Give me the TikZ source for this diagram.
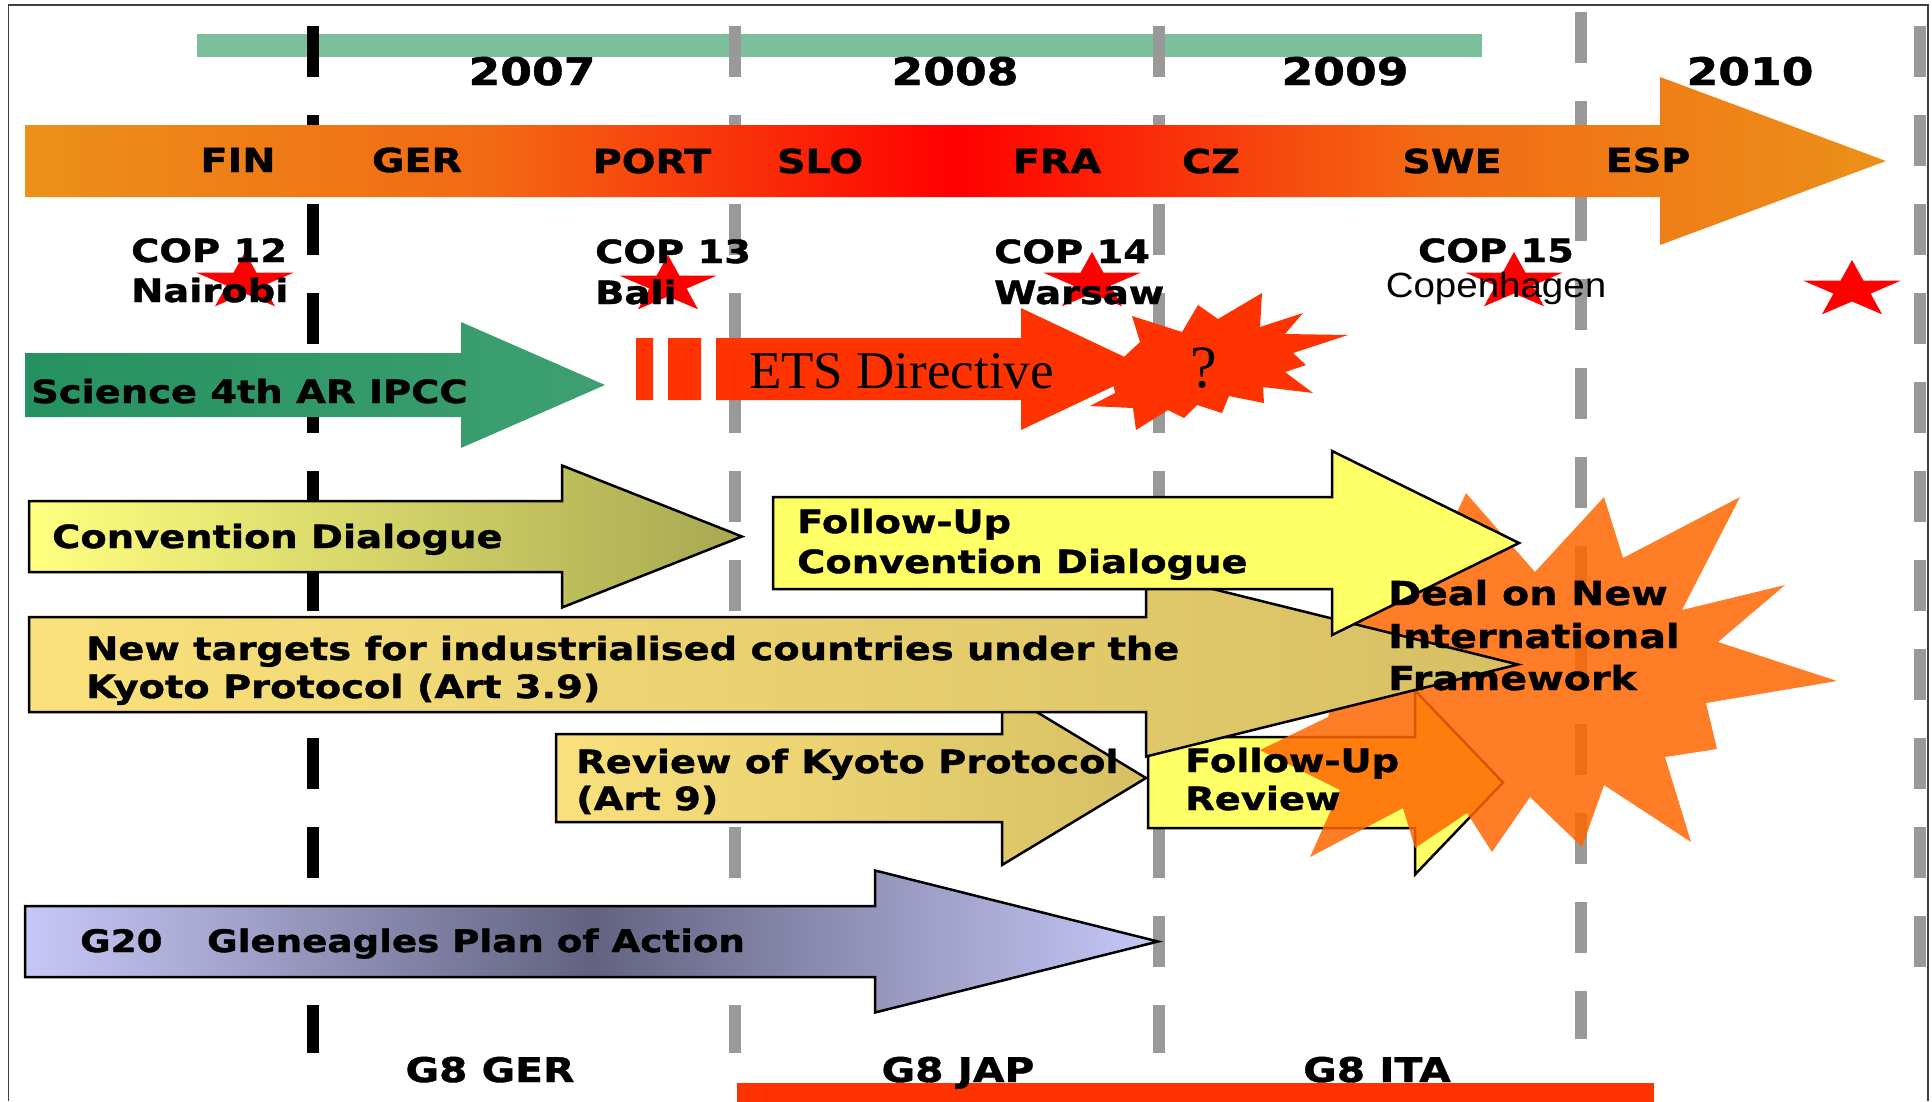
\documentclass[tikz,border=0pt]{standalone}
\usepackage{fontspec}
\newfontfamily\heavysans{DejaVu Sans}[FakeStretch=1.2, FakeBold=1.2]
\newfontfamily\plainsans{Liberation Sans}[FakeStretch=1.1]
\newfontfamily\romanface{Liberation Serif}
\usetikzlibrary{positioning}

\definecolor{barGreen}{RGB}{124,191,155}
\definecolor{presOrange}{RGB}{235,145,25}
\definecolor{presMid}{RGB}{243,105,20}
\definecolor{presRed}{RGB}{255,0,0}
\definecolor{sciGreenL}{RGB}{38,145,96}
\definecolor{sciGreenR}{RGB}{62,160,112}
\definecolor{etsRed}{RGB}{255,51,0}
\definecolor{convL}{RGB}{255,255,128}
\definecolor{convR}{RGB}{168,168,82}
\definecolor{fupYellow}{RGB}{255,255,102}
\definecolor{tanL}{RGB}{250,225,125}
\definecolor{tanR}{RGB}{215,192,100}
\definecolor{lavender}{RGB}{200,200,248}
\definecolor{slate}{RGB}{98,98,128}
\definecolor{dealOrange}{RGB}{255,102,0}
\definecolor{dashGray}{RGB}{153,153,153}

\pgfdeclarehorizontalshading{presshade}{100bp}{color(0bp)=(presOrange); color(25bp)=(presOrange);
  color(37.5bp)=(presMid); color(50bp)=(presRed); color(62.5bp)=(presMid); color(75bp)=(presOrange);
  color(100bp)=(presOrange)}

% block arrow: [style]{left x}{body top}{body bottom}{head x}{head half height}{tip x}
\newcommand{\blockarrow}[7][]{%
  \path[#1] (#2,#3) -- (#5,#3) -- (#5,{(#3+#4)/2-#6}) -- (#7,{(#3+#4)/2})
    -- (#5,{(#3+#4)/2+#6}) -- (#5,#4) -- (#2,#4) -- cycle;}

\begin{document}
\begin{tikzpicture}[x=1pt, y=-1pt,
    yr/.style={font=\heavysans\bfseries\fontsize{38}{40}\selectfont, inner sep=0, anchor=base},
    ctry/.style={font=\heavysans\bfseries\fontsize{33}{36}\selectfont, inner sep=0, anchor=base},
    cop/.style={font=\heavysans\bfseries\fontsize{32}{36}\selectfont, inner sep=0, anchor=base west},
    lbl/.style={font=\heavysans\bfseries\fontsize{32}{36}\selectfont, inner sep=0, anchor=base west},
    outl/.style={draw=black, line width=2.5pt, line join=miter},
    yearline/.style={line width=12pt, dash pattern=on 51pt off 38pt},
    redstar/.pic={\fill[presRed] (-90:30) \foreach \k in {1,...,9}{ -- ({-90+36*\k}:{ifthenelse(mod(\k,2)==0,30,11.5)}) } -- cycle;}]
  \useasboundingbox (0,0) rectangle (1932,1101);

  % frame and top bar
  \draw[black!75, line width=1.5pt] (8.6,1101) -- (8.6,5) -- (1928,5) -- (1928,1101);
  \fill[barGreen] (197,34) rectangle (1482,57);

  % year separators
  \foreach \xx/\ya/\yb/\cc in {313/26/1053/black, 735/26/1053/dashGray, 1159/26/1053/dashGray,
                               1581/12/1039/dashGray, 1920/26/967/dashGray}
    \draw[yearline, draw=\cc] (\xx,\ya) -- (\xx,\yb);

  % presidencies
  \blockarrow[shading=presshade]{25}{125}{197}{1660}{84}{1886}
  \node[yr] (y2007) at (532,85) {2007};
  \node[yr] (y2008) at (955,85) {2008};
  \node[yr] (y2009) at (1345,85) {2009};
  \node[yr] (y2010) at (1750,85) {2010};
  \node[ctry] (fin) at (238,172) {FIN};
  \node[ctry] (ger) at (417,172) {GER};
  \node[ctry] (port) at (652,173) {PORT};
  \node[ctry] (slo) at (820,173) {SLO};
  \node[ctry] (fra) at (1057,173) {FRA};
  \node[ctry] (cz) at (1211,173) {CZ};
  \node[ctry] (swe) at (1452,173) {SWE};
  \node[ctry] (esp) at (1648,172) {ESP};

  % conferences
  \pic[xscale=1.7] at (245,282) {redstar};
  \pic[xscale=1.7] at (668,285) {redstar};
  \pic[xscale=1.7] at (1092,282) {redstar};
  \pic[xscale=1.7] at (1514,282) {redstar};
  \pic[xscale=1.7] at (1852,290) {redstar};
  \node[cop] (cop12) at (131,262) {COP 12};
  \node[cop] (nairobi) at ([yshift=-40pt]cop12.base west) {Nairobi};
  \node[cop] (cop13) at (595,263) {COP 13};
  \node[cop] (bali) at ([yshift=-41pt]cop13.base west) {Bali};
  \node[cop] (cop14) at (994,263) {COP 14};
  \node[cop] (warsaw) at ([yshift=-41pt]cop14.base west) {Warsaw};
  \node[cop, anchor=base] (cop15) at (1496,262) {COP 15};
  \node[font=\plainsans\fontsize{35}{38}\selectfont, inner sep=0, anchor=base] (copenhagen)
    at ([yshift=-35pt]cop15.base) {Copenhagen};

  % science and ETS
  \blockarrow[left color=sciGreenL, right color=sciGreenR]{25}{353}{417}{461}{63}{605}
  \fill[etsRed] (636,338) rectangle (653,400) (668,338) rectangle (701,400);
  \blockarrow[fill=etsRed]{716}{338}{400}{1021}{61}{1150}
  \fill[etsRed] (1140,342) -- (1132,316) -- (1182,332) -- (1198,305) -- (1218,319) -- (1262,293)
    -- (1260,327) -- (1303,313) -- (1285,334) -- (1348,335) -- (1293,353) -- (1306,365)
    -- (1285,372) -- (1313,393) -- (1263,387) -- (1264,403) -- (1229,396) -- (1222,413)
    -- (1197,405) -- (1184,418) -- (1168,410) -- (1136,430) -- (1133,408) -- (1090,406)
    -- (1115,393) -- (1110,370) -- cycle;
  \node[lbl] (science) at (31,403) {Science 4th AR IPCC};
  \node[font=\romanface\fontsize{53}{56}\selectfont, inner sep=0, anchor=base west] (ets) at (749,388) {ETS Directive};
  \node[font=\romanface\fontsize{60}{62}\selectfont, inner sep=0, anchor=base] (qmark) at (1204,387) {?};

  % negotiation tracks
  \blockarrow[outl, left color=convL, right color=convR]{29}{501}{572}{562}{71}{742}
  \blockarrow[outl, left color=tanL, right color=tanR]{556}{734}{822}{1002}{87}{1146}
  \blockarrow[outl, fill=fupYellow]{1148}{737}{828}{1415}{92}{1503}
  \fill[dealOrange, fill opacity=0.85] (1466,493) -- (1535,572) -- (1604,497) -- (1623,558)
    -- (1740,497) -- (1682,610) -- (1785,585) -- (1718,642) -- (1837,681) -- (1706,703)
    -- (1717,749) -- (1665,757) -- (1691,842) -- (1604,785) -- (1582,847) -- (1530,797)
    -- (1492,852) -- (1467,813) -- (1415,848) -- (1403,808) -- (1310,857) -- (1340,790)
    -- (1260,750) -- (1328,717) -- (1362,605) -- (1430,570) -- cycle;
  \blockarrow[outl, left color=tanL, right color=tanR]{29}{617}{712}{1146}{92}{1518}
  \blockarrow[outl, fill=fupYellow]{773}{497}{589}{1332}{92}{1519}
  \blockarrow[outl, left color=lavender, right color=lavender, middle color=slate]{25}{906}{977}{875}{71}{1158}

  \node[lbl] (convdlg) at (52,548) {Convention Dialogue};
  \node[lbl] (fupconv) at (797,533) {Follow-Up};
  \node[lbl] (fupconv2) at ([yshift=-40pt]fupconv.base west) {Convention Dialogue};
  \node[lbl] (targets) at (86,660) {New targets for industrialised countries under the};
  \node[lbl] (targets2) at ([yshift=-38pt]targets.base west) {Kyoto Protocol (Art 3.9)};
  \node[lbl] (review) at (576,773) {Review of Kyoto Protocol};
  \node[lbl] (review2) at ([yshift=-37pt]review.base west) {(Art 9)};
  \node[lbl] (fupreview) at (1185,772) {Follow-Up};
  \node[lbl] (fupreview2) at ([yshift=-38pt]fupreview.base west) {Review};
  \node[lbl, font=\heavysans\bfseries\fontsize{33}{36}\selectfont] (deal) at (1388,605) {Deal on New};
  \node[lbl, font=\heavysans\bfseries\fontsize{33}{36}\selectfont] (deal2) at ([yshift=-43pt]deal.base west) {International};
  \node[lbl, font=\heavysans\bfseries\fontsize{33}{36}\selectfont] (deal3) at ([yshift=-42pt]deal2.base west) {Framework};
  \node[lbl, font=\heavysans\bfseries\fontsize{31}{34}\selectfont] (g20) at (80,952) {G20};
  \node[lbl, font=\heavysans\bfseries\fontsize{31}{34}\selectfont] (gleneagles) at (207,952) {Gleneagles Plan of Action};

  % G8 summits
  \fill[etsRed] (737,1083) rectangle (1654,1105);
  \node[ctry, font=\heavysans\bfseries\fontsize{34}{36}\selectfont] (g8ger) at (490,1082) {G8 GER};
  \node[ctry, font=\heavysans\bfseries\fontsize{34}{36}\selectfont] (g8jap) at (958,1082) {G8 JAP};
  \node[ctry, font=\heavysans\bfseries\fontsize{34}{36}\selectfont] (g8ita) at (1377,1082) {G8 ITA};
\end{tikzpicture}
\end{document}
